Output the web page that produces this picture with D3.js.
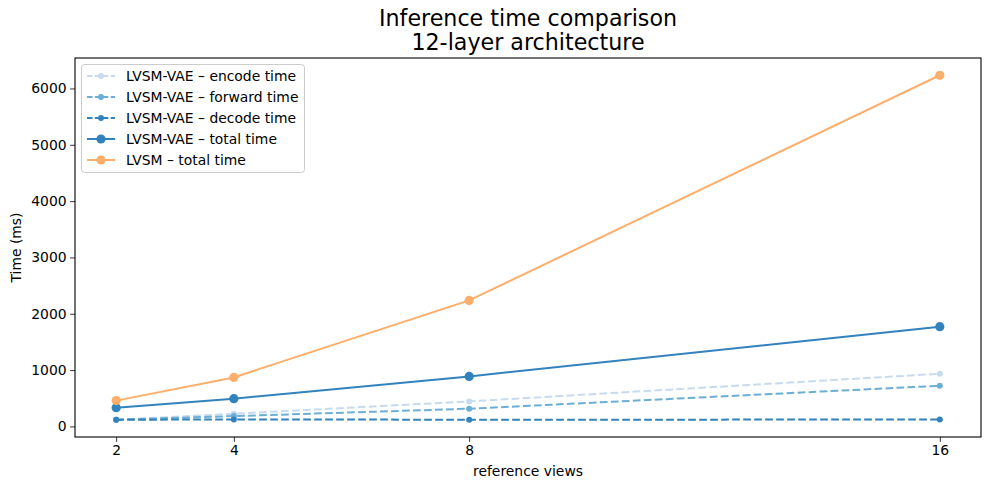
<!DOCTYPE html>
<html><head><meta charset="utf-8">
<script src="https://cdn.jsdelivr.net/npm/d3@7"></script>
<style>body{margin:0;background:#fff}svg{display:block}text{font-family:"DejaVu Sans",sans-serif}</style>
</head><body><svg id="c" width="989" height="490"></svg>
<script>
const views = [2, 4, 8, 16];
const encodeTime = [118, 225, 444, 935];
const forwardTime = [120, 183, 314, 722];
const decodeTime = [118, 124, 119, 122];
const vaeTotal = [332, 492, 888, 1770];
const lvsmTotal = [458, 870, 2237, 6235];
const yTicks = [0, 1000, 2000, 3000, 4000, 5000, 6000];
const seriesNames = ["LVSM-VAE – encode time","LVSM-VAE – forward time","LVSM-VAE – decode time","LVSM-VAE – total time","LVSM – total time"];

const series = [
  {name: seriesNames[0], values: encodeTime, color: "#c6dbef", dash: "7.7,3.3", r: 3},
  {name: seriesNames[1], values: forwardTime, color: "#6baed6", dash: "7.7,3.3", r: 3},
  {name: seriesNames[2], values: decodeTime, color: "#3182bd", dash: "7.7,3.3", r: 3},
  {name: seriesNames[3], values: vaeTotal, color: "#3182bd", dash: null, r: 4.6},
  {name: seriesNames[4], values: lvsmTotal, color: "#fdae6b", dash: null, r: 4.6}
];

const L = 75, R = 981, T = 58, B = 437;
const FS = 13.9;
const svg = d3.select("#c");
const xr = 16 - 2;
const x = d3.scaleLinear().domain([2 - 0.05*xr, 16 + 0.05*xr]).range([L, R]);
const all = series.flatMap(s => s.values);
const mn = d3.min(all), mx = d3.max(all), yr = mx - mn;
const y = d3.scaleLinear().domain([mn - 0.05*yr, mx + 0.05*yr]).range([B, T]);

const xa = svg.append("g").attr("transform", `translate(0,${B})`)
  .call(d3.axisBottom(x).tickValues(views).tickFormat(d3.format("d")).tickSize(4.9).tickSizeOuter(0).tickPadding(3.5));
const ya = svg.append("g").attr("transform", `translate(${L},0)`)
  .call(d3.axisLeft(y).tickValues(yTicks).tickFormat(d3.format("d")).tickSize(4.9).tickSizeOuter(0).tickPadding(3.5));
[xa, ya].forEach(g => {
  g.select(".domain").remove();
  g.selectAll("line").attr("stroke", "#000").attr("stroke-width", 0.8);
  g.selectAll("text").attr("font-size", FS).attr("fill", "#000").attr("font-family", "DejaVu Sans");
});
svg.append("rect").attr("x", L).attr("y", T).attr("width", R - L).attr("height", B - T)
  .attr("fill", "none").attr("stroke", "#000").attr("stroke-width", 1.1);

const line = d3.line().x((d, i) => x(views[i])).y(d => y(d));
series.forEach(s => {
  const g = svg.append("g");
  g.append("path").attr("d", line(s.values)).attr("fill", "none").attr("stroke", s.color)
    .attr("stroke-width", 2).attr("stroke-dasharray", s.dash);
  g.selectAll("circle").data(s.values).enter().append("circle")
    .attr("cx", (d, i) => x(views[i])).attr("cy", d => y(d)).attr("r", s.r).attr("fill", s.color);
});

svg.append("text").attr("x", (L + R) / 2).attr("y", 26).attr("text-anchor", "middle").attr("font-size", 22.2).text("Inference time comparison");
svg.append("text").attr("x", (L + R) / 2).attr("y", 50).attr("text-anchor", "middle").attr("font-size", 22.2).text("12-layer architecture");
svg.append("text").attr("x", (L + R) / 2).attr("y", 476).attr("text-anchor", "middle").attr("font-size", FS).text("reference views");
svg.append("text").attr("transform", `translate(21,${(T + B) / 2}) rotate(-90)`).attr("text-anchor", "middle").attr("font-size", FS).text("Time (ms)");

const lg = svg.append("g");
lg.append("rect").attr("x", 81.5).attr("y", 64.5).attr("width", 223).attr("height", 108).attr("rx", 3)
  .attr("fill", "#fff").attr("fill-opacity", 0.8).attr("stroke", "#ccc").attr("stroke-width", 1);
series.forEach((s, i) => {
  const yy = 76 + i * 21;
  lg.append("line").attr("x1", 87).attr("x2", 115).attr("y1", yy).attr("y2", yy).attr("stroke", s.color)
    .attr("stroke-width", 2).attr("stroke-dasharray", s.dash ? "5.5,2.4" : null);
  lg.append("circle").attr("cx", 101).attr("cy", yy).attr("r", s.r).attr("fill", s.color);
  lg.append("text").attr("x", 126).attr("y", yy + 5).attr("font-size", FS).text(s.name);
});
</script></body></html>
